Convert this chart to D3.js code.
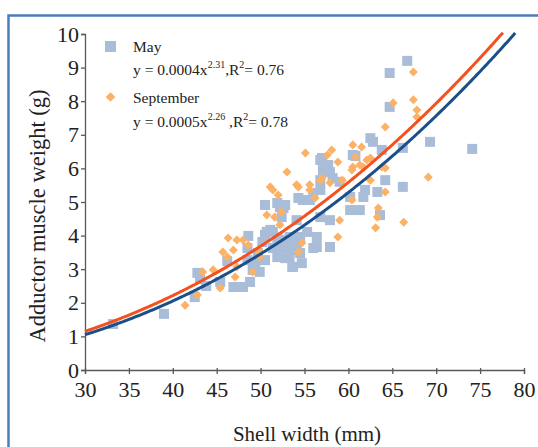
<!DOCTYPE html>
<html>
<head>
<meta charset="utf-8">
<script src="https://cdn.jsdelivr.net/npm/d3@7"></script>
<style>
  body { margin: 0; background: #fff; }
  text { font-family: "Liberation Serif", "Times New Roman", serif; fill: #222; }
</style>
</head>
<body>
<div id="chart"></div>
<script>
// shell width (mm), adductor muscle weight (g)
var mayPoints = [
  [33.2,1.37],[39.0,1.67],[42.5,2.17],[42.8,2.89],[43.1,2.71],[43.8,2.50],[45.4,2.62],[46.2,3.24],
  [46.9,2.47],[48.0,2.47],[48.6,3.99],[48.8,2.62],[49.4,3.21],[49.7,3.48],[49.9,2.92],[50.2,3.81],
  [50.5,4.02],[50.5,3.27],[50.7,4.11],[50.5,4.91],[51.4,4.11],[51.9,4.97],[52.2,4.85],[52.8,4.91],
  [52.2,3.66],[53.0,3.87],[53.3,3.36],[53.7,3.57],[53.9,3.93],[54.1,4.46],[54.3,5.12],[53.7,3.07],
  [51.4,3.63],[51.9,3.36],[52.8,3.33],[51.9,3.93],[52.6,3.87],[53.3,3.96],[54.5,3.96],[55.3,4.11],
  [56.4,3.96],[56.4,3.66],[54.1,3.72],[53.0,3.63],[48.5,3.63],[48.5,3.27],[49.1,2.98],[53.6,3.07],
  [54.7,3.18],[54.5,3.48],[56.0,3.63],[57.9,3.66],[56.8,6.25],[57.3,5.89],[56.8,5.65],[58.2,5.71],
  [59.0,5.60],[60.2,5.15],[61.7,5.15],[60.2,4.76],[57.9,4.46],[56.8,4.55],[56.0,5.27],[55.6,5.06],
  [54.8,5.06],[52.4,4.55],[52.6,4.82],[64.7,7.83],[62.5,6.90],[62.8,6.79],[60.5,6.40],[57.1,5.95],
  [57.9,5.89],[64.2,5.65],[66.2,5.45],[61.9,5.36],[63.3,5.30],[56.8,5.36],[61.3,4.76],[63.6,4.61],
  [66.7,9.20],[64.7,8.84],[74.1,6.58],[69.3,6.79],[66.2,6.61],[63.8,6.55],[60.8,6.37],[57.0,6.31],
  [57.7,6.10],[51.1,4.17]
];

var septPoints = [
  [41.4,1.93],[42.8,2.23],[43.4,2.92],[44.6,2.98],[45.4,2.44],[46.3,3.93],[45.7,3.51],[46.2,3.36],
  [47.1,2.77],[47.3,3.07],[48.6,3.72],[49.1,2.92],[49.9,3.36],[51.1,5.45],[52.0,5.21],[50.7,4.61],
  [51.6,4.55],[52.2,4.32],[47.3,3.87],[46.9,3.57],[49.9,3.51],[52.4,4.70],[54.3,5.45],[53.0,5.89],
  [54.1,5.51],[55.6,5.51],[57.0,5.71],[57.9,5.57],[58.8,6.19],[60.5,6.04],[61.3,6.10],[60.4,5.06],
  [59.0,4.46],[58.8,3.96],[54.7,3.78],[54.3,3.51],[49.7,3.57],[48.0,3.87],[64.2,7.23],[60.5,6.70],
  [61.5,6.64],[58.1,6.55],[57.6,6.40],[62.1,6.25],[61.7,6.04],[60.8,6.34],[64.2,6.01],[55.1,6.46],
  [56.8,5.65],[59.3,5.65],[62.5,5.65],[56.2,5.12],[64.2,5.30],[63.4,4.82],[67.4,8.87],[65.1,7.95],
  [67.4,8.04],[67.8,7.74],[67.8,7.53],[62.5,6.31],[63.8,6.04],[69.1,5.74],[66.3,4.40],[63.3,4.55],
  [63.1,4.23],[55.6,5.36],[51.4,5.36],[60.4,5.95]
];

// power trend lines y = a * x^b, drawn over the plotted range
var mayFit = { a: 0.00038, b: 2.33, from: 30, to: 79 };
var septFit = { a: 0.000493, b: 2.28, from: 30, to: 77.6 };

var xTicks = [30, 35, 40, 45, 50, 55, 60, 65, 70, 75, 80];
var yTicks = [0, 1, 2, 3, 4, 5, 6, 7, 8, 9, 10];

var width = 538, height = 447;
var margin = { top: 34, right: 14, bottom: 77, left: 85 };

var svg = d3.select("#chart").append("svg")
  .attr("width", width)
  .attr("height", height);

// blue frame around the figure
svg.append("rect")
  .attr("x", 8.5).attr("y", 15.5)
  .attr("width", 700).attr("height", 600)
  .attr("fill", "none")
  .attr("stroke", "#4a7ebb")
  .attr("stroke-width", 2.5);

var x = d3.scaleLinear().domain([30, 80]).range([margin.left, width - margin.right]);
var y = d3.scaleLinear().domain([0, 10]).range([height - margin.bottom, margin.top]);

var axisColor = "#595959";

var gx = svg.append("g")
  .attr("transform", "translate(0," + y(0) + ")")
  .call(d3.axisBottom(x).tickValues(xTicks).tickSize(4).tickPadding(7).tickFormat(d3.format("d")));
var gy = svg.append("g")
  .attr("transform", "translate(" + x(30) + ",0)")
  .call(d3.axisLeft(y).tickValues(yTicks).tickSize(4).tickPadding(2).tickFormat(d3.format("d")));

[gx, gy].forEach(function(g) {
  g.select(".domain").attr("stroke", axisColor).attr("stroke-width", 1.3);
  g.selectAll(".tick line").attr("stroke", axisColor).attr("stroke-width", 1.3);
  g.selectAll(".tick text")
    .style("font-family", "'Liberation Serif', serif")
    .style("font-size", "22px")
    .attr("fill", "#222");
});
gx.selectAll(".tick line").attr("y1", -2);

// points
var sq = 10;
svg.append("g").selectAll("rect")
  .data(mayPoints)
  .enter()
  .append("rect")
  .attr("x", d => x(d[0]) - sq / 2)
  .attr("y", d => y(d[1]) - sq / 2)
  .attr("width", sq)
  .attr("height", sq)
  .attr("fill", "#a9bdd9");

var diamond = d3.symbol().type(d3.symbolDiamond2).size(52);
svg.append("g").selectAll("path")
  .data(septPoints)
  .enter()
  .append("path")
  .attr("d", diamond)
  .attr("transform", d => "translate(" + x(d[0]) + "," + y(d[1]) + ")")
  .attr("fill", "#fbb267");

// trend lines
function curve(fit) {
  return d3.range(fit.from, fit.to + 0.001, 0.2).map(function(v) {
    return [v, fit.a * Math.pow(v, fit.b)];
  });
}
var line = d3.line().x(d => x(d[0])).y(d => y(d[1])).curve(d3.curveBasis);

svg.append("path")
  .datum(curve(septFit))
  .attr("d", line)
  .attr("fill", "none")
  .attr("stroke", "#f4511e")
  .attr("stroke-width", 3);

svg.append("path")
  .datum(curve(mayFit))
  .attr("d", line)
  .attr("fill", "none")
  .attr("stroke", "#1b4f8a")
  .attr("stroke-width", 3);

// legend
var leg = svg.append("g").style("font-size", "15.5px");
leg.append("rect").attr("x", 105).attr("y", 41).attr("width", 11).attr("height", 11).attr("fill", "#a9bdd9");
leg.append("path").attr("d", d3.symbol().type(d3.symbolDiamond2).size(60))
  .attr("transform", "translate(110.5,97)").attr("fill", "#fbb267");

leg.append("text").attr("x", 133).attr("y", 52).text("May");
var e1 = leg.append("text").attr("x", 133).attr("y", 75);
e1.append("tspan").text("y = 0.0004x");
e1.append("tspan").attr("dy", -7).style("font-size", "10px").text("2.31");
e1.append("tspan").attr("dy", 7).text(",R");
e1.append("tspan").attr("dy", -7).style("font-size", "10px").text("2");
e1.append("tspan").attr("dy", 7).text("= 0.76");

leg.append("text").attr("x", 133).attr("y", 103).text("September");
var e2 = leg.append("text").attr("x", 133).attr("y", 127);
e2.append("tspan").text("y = 0.0005x");
e2.append("tspan").attr("dy", -7).style("font-size", "10px").text("2.26");
e2.append("tspan").attr("dy", 7).text(" ,R");
e2.append("tspan").attr("dy", -7).style("font-size", "10px").text("2");
e2.append("tspan").attr("dy", 7).text("= 0.78");

// axis titles
svg.append("text")
  .attr("transform", "translate(45," + 216 + ") rotate(-90)")
  .attr("text-anchor", "middle")
  .style("font-size", "22.5px")
  .text("Adductor muscle weight (g)");

svg.append("text")
  .attr("x", 307)
  .attr("y", 441)
  .attr("text-anchor", "middle")
  .style("font-size", "21px")
  .text("Shell width (mm)");
</script>
</body>
</html>
